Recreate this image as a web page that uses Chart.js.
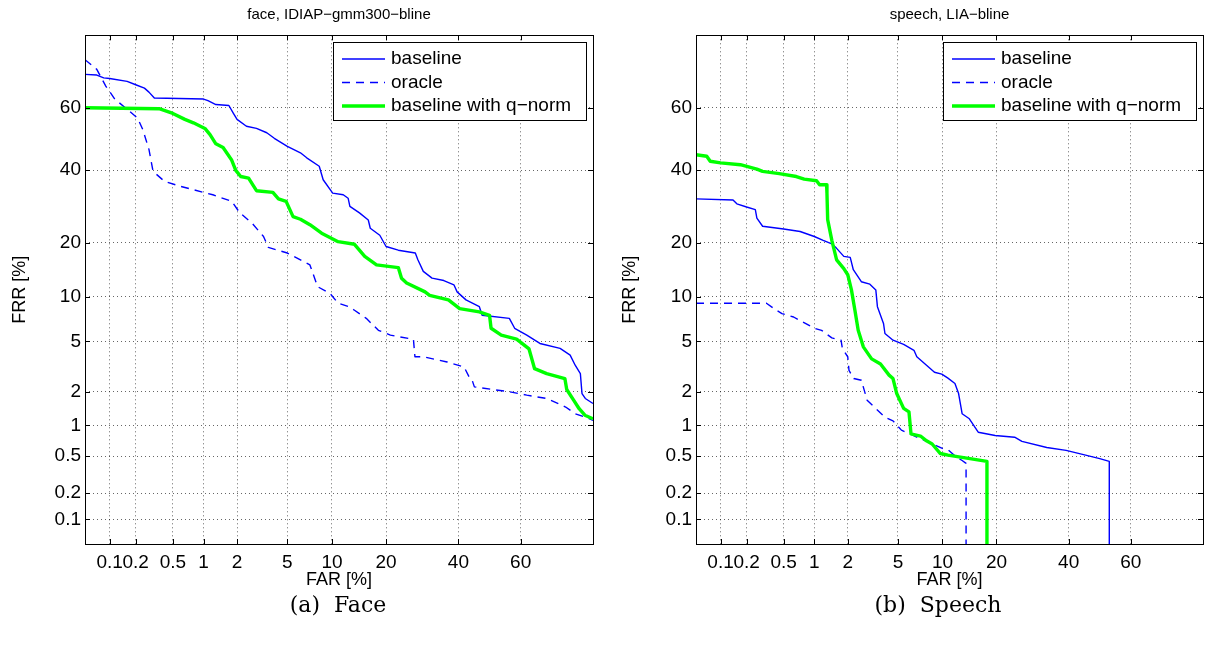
<!DOCTYPE html>
<html>
<head>
<meta charset="utf-8">
<title>DET curves</title>
<script src="https://cdn.jsdelivr.net/npm/chart.js@4/dist/chart.umd.min.js"></script>
<style>
  body { margin: 0; background: #fff; }
  #wrap { position: relative; width: 1210px; height: 648px; overflow: hidden; }
  canvas { position: absolute; top: 0; }
  #c-face { left: 0; }
  #c-speech { left: 610px; }
  .caption {
    position: absolute; top: 592px; line-height: 28px;
    font: 22px 'DejaVu Serif', 'Liberation Serif', serif;
    white-space: pre; transform: translateX(-50%); color: #000;
  }
</style>
</head>
<body>
<div id="wrap">
  <canvas id="c-face" width="610" height="600"></canvas>
  <canvas id="c-speech" width="600" height="600"></canvas>
  <div class="caption" style="left:338px">(a)  Face</div>
  <div class="caption" style="left:938px">(b)  Speech</div>
</div>
<script>
// axes (percent, normal deviate scale)
const tickValues = [0.1, 0.2, 0.5, 1, 2, 5, 10, 20, 40, 60];
const axisMin = 0.05;
const axisMax = 80;

const seriesLabels = ['baseline', 'oracle', 'baseline with q\u2212norm'];

// face, IDIAP-gmm300-bline
const faceBaseFar = [0.05, 0.07, 0.085, 0.1, 0.16, 0.2, 0.25, 0.28, 0.32, 1.0, 1.1, 1.3, 1.7, 1.85, 2.0, 2.4, 2.9, 3.5, 4.0, 5.0, 6.2, 6.85, 8.3, 8.8, 10.1, 11.7, 12.5, 12.8, 14.5, 16.2, 16.6, 18.6, 20, 22.9, 27.3, 28, 29.5, 32, 35.5, 38.6, 39.6, 42.4, 46.7, 47.6, 56.4, 58.1, 61.9, 65.9, 71.7, 74.4, 75.7, 77, 77.4, 78.2, 80];
const faceBaseFrr = [70, 69.8, 69, 68.8, 68, 67, 66, 64.8, 63, 62.7, 62.2, 61, 60.7, 58.4, 56.3, 54.1, 53.4, 52, 50.2, 47.6, 45.5, 43.9, 41.2, 37, 33, 32.5, 31.5, 29.2, 27.4, 25.5, 23.4, 21.7, 19.1, 18.3, 17.7, 16.3, 14.1, 12.9, 12.5, 11.8, 10.7, 9.55, 8.65, 7.6, 7.25, 6.2, 5.55, 4.83, 4.44, 3.95, 3.3, 2.83, 1.93, 1.75, 1.58];

const faceOracleFar = [0.05, 0.07, 0.09, 0.115, 0.17, 0.21, 0.24, 0.28, 0.31, 0.41, 0.6, 1.0, 1.22, 1.8, 2.1, 2.7, 3.3, 3.6, 5, 6.2, 7.2, 7.6, 8.1, 9.7, 10.9, 12.6, 13.6, 15.8, 18.3, 21, 26.8, 27.2, 29.5, 36.5, 41.8, 43.4, 44.2, 45.1, 51.1, 56.4, 61.9, 67.9, 71.2, 73.2, 75.7, 78.3, 80];
const faceOracleFrr = [74, 71.4, 66.6, 62.7, 58.9, 56.7, 53, 46.6, 39.6, 36.5, 35, 33.2, 32.5, 30.6, 27.5, 24.5, 21.4, 18.9, 17.7, 16.3, 15.3, 13.5, 11.5, 10.5, 9.1, 8.65, 8.2, 7.25, 6.0, 5.55, 5.17, 3.84, 3.84, 3.5, 3.2, 2.66, 2.58, 2.2, 2.09, 2.0, 1.87, 1.75, 1.58, 1.47, 1.28, 1.19, 1.11];

const faceQnormFar = [0.05, 0.36, 0.5, 0.66, 0.8, 1.03, 1.15, 1.3, 1.51, 1.79, 1.95, 2.15, 2.5, 2.9, 3.9, 4.3, 4.9, 5.5, 6.2, 7.2, 8.6, 10.9, 13.6, 15.5, 17.9, 22.9, 23.7, 25, 30, 31.3, 36.9, 40.4, 46.7, 50, 50.5, 53.8, 58.7, 62.6, 64.3, 67.9, 73, 73.5, 75.3, 76.7, 78.1, 80];
const faceQnormFrr = [60, 59.7, 58.2, 56.3, 55.2, 53.4, 51.4, 48.4, 47.2, 43.3, 39.9, 38, 37.5, 33.7, 33.2, 31.3, 30.6, 26.4, 25.7, 24.3, 22.2, 20.2, 19.6, 17, 15.3, 14.8, 12.9, 12.1, 10.7, 10.2, 9.55, 8.4, 8.0, 7.6, 6.2, 5.55, 5.2, 4.4, 3.1, 2.83, 2.58, 2.09, 1.69, 1.42, 1.24, 1.15];

// speech, LIA-bline
const speechBaseFar = [0.05, 0.14, 0.155, 0.2, 0.25, 0.26, 0.3, 0.5, 0.73, 1.0, 1.21, 1.45, 1.6, 1.85, 2.1, 2.23, 2.6, 3.05, 3.4, 3.5, 3.9, 4.0, 4.6, 5.5, 6.5, 6.8, 7.9, 8.9, 9.9, 10.8, 11.9, 12.5, 13.1, 14.4, 16.1, 19.7, 24.4, 26.3, 33.3, 39.2, 45.4, 50, 53.1, 53.1];
const speechBaseFrr = [31.3, 31, 29.9, 29, 28.3, 26, 23.9, 23.2, 22.6, 21.4, 20.5, 19.7, 18.7, 17, 16.8, 14.4, 12.3, 11.9, 11, 8.65, 6.7, 5.7, 5.1, 4.75, 4.3, 3.84, 3.3, 2.9, 2.8, 2.6, 2.35, 1.93, 1.28, 1.15, 0.86, 0.8, 0.77, 0.7, 0.61, 0.57, 0.51, 0.47, 0.44, 0.05];

const speechOracleFar = [0.05, 0.33, 0.42, 0.48, 0.63, 1.0, 1.17, 1.45, 1.75, 1.8, 2.0, 2.05, 2.25, 2.6, 2.9, 3.3, 4.0, 4.6, 5.3, 9.9, 10.8, 12.1, 13.1, 13.8, 13.8];
const speechOracleFrr = [9.1, 9.1, 8.2, 7.8, 7.4, 6.2, 6.0, 5.3, 5.1, 4.4, 3.84, 3.0, 2.58, 2.5, 1.69, 1.47, 1.19, 1.1, 0.9, 0.6, 0.58, 0.49, 0.45, 0.42, 0.05];

const speechQnormFar = [0.05, 0.068, 0.075, 0.1, 0.17, 0.26, 0.3, 0.45, 0.67, 0.8, 1.05, 1.12, 1.3, 1.31, 1.33, 1.45, 1.6, 1.85, 2.0, 2.15, 2.3, 2.45, 2.7, 3.15, 3.7, 4.3, 4.6, 4.9, 5.5, 6.0, 6.2, 7.2, 7.9, 8.6, 9.7, 10.8, 14.5, 17.9, 17.9];
const speechQnormFrr = [44.9, 44.4, 42.8, 42.3, 41.7, 40.3, 39.6, 38.9, 38.0, 37.2, 36.7, 35.5, 35.5, 33, 25.6, 20.5, 16.3, 14.6, 13.5, 11, 8.2, 6, 4.56, 3.7, 3.37, 2.75, 2.58, 1.93, 1.43, 1.33, 0.83, 0.79, 0.71, 0.66, 0.53, 0.51, 0.47, 0.44, 0.05];

const FONT = "'Liberation Sans', Arial, Helvetica, sans-serif";
Chart.defaults.font.family = FONT;
Chart.defaults.color = '#000';

// inverse of the normal CDF (Acklam)
function probit(p) {
    const a = [-39.69683028665376, 220.9460984245205, -275.9285104469687, 138.3577518672690, -30.66479806614716, 2.506628277459239];
    const b = [-54.47609879822406, 161.5858368580409, -155.6989798598866, 66.80131188771972, -13.28068155288572];
    const c = [-0.007784894002430293, -0.3223964580411365, -2.400758277161838, -2.549732539343734, 4.374664141464968, 2.938163982698783];
    const d = [0.007784695709041462, 0.3224671290700398, 2.445134137142996, 3.754408661907416];
    if (p <= 0) return -8;
    if (p >= 1) return 8;
    const pl = 0.02425;
    let q, r;
    if (p < pl) {
        q = Math.sqrt(-2 * Math.log(p));
        return (((((c[0] * q + c[1]) * q + c[2]) * q + c[3]) * q + c[4]) * q + c[5]) /
            ((((d[0] * q + d[1]) * q + d[2]) * q + d[3]) * q + 1);
    }
    if (p > 1 - pl) {
        q = Math.sqrt(-2 * Math.log(1 - p));
        return -(((((c[0] * q + c[1]) * q + c[2]) * q + c[3]) * q + c[4]) * q + c[5]) /
            ((((d[0] * q + d[1]) * q + d[2]) * q + d[3]) * q + 1);
    }
    q = p - 0.5;
    r = q * q;
    return (((((a[0] * r + a[1]) * r + a[2]) * r + a[3]) * r + a[4]) * r + a[5]) * q /
        (((((b[0] * r + b[1]) * r + b[2]) * r + b[3]) * r + b[4]) * r + 1);
}

function normCdf(z) {
    const t = 1 / (1 + 0.3275911 * Math.abs(z) / Math.SQRT2);
    const y = 1 - (((((1.061405429 * t - 1.453152027) * t) + 1.421413741) * t - 0.284496736) * t + 0.254829592) * t *
        Math.exp(-z * z / 2);
    return z >= 0 ? (1 + y) / 2 : (1 - y) / 2;
}

/* ===== probit scale ===== */

class ProbitScale extends Chart.Scale {
    static id = 'probit';
    static defaults = {};

    determineDataLimits() {
        this.min = this.options.min;
        this.max = this.options.max;
    }
    buildTicks() {
        return tickValues.map(v => ({ value: v }));
    }
    getLabelForValue(value) {
        return String(value);
    }
    configure() {
        super.configure();
        this._zStart = probit(this.min / 100);
        this._zRange = probit(this.max / 100) - this._zStart;
    }
    getPixelForValue(value) {
        if (value === null || value === undefined || isNaN(value)) return NaN;
        return this.getPixelForDecimal((probit(value / 100) - this._zStart) / this._zRange);
    }
    getValueForPixel(pixel) {
        const dec = this.getDecimalForPixel(pixel);
        return normCdf(this._zStart + dec * this._zRange) * 100;
    }
}
Chart.register(ProbitScale);

/* ===== frame, inner ticks and legend ===== */

const detDecor = {
    id: 'detDecor',
    afterDatasetsDraw(chart) {
        const { ctx, chartArea: ca, scales } = chart;
        ctx.save();
        ctx.strokeStyle = '#000';
        ctx.lineWidth = 1;
        ctx.setLineDash([]);
        ctx.beginPath();
        tickValues.forEach(v => {
            const x = Math.round(scales.x.getPixelForValue(v)) + 0.5;
            ctx.moveTo(x, ca.bottom); ctx.lineTo(x, ca.bottom - 5);
            ctx.moveTo(x, ca.top); ctx.lineTo(x, ca.top + 5);
            const y = Math.round(scales.y.getPixelForValue(v)) + 0.5;
            ctx.moveTo(ca.left, y); ctx.lineTo(ca.left + 5, y);
            ctx.moveTo(ca.right, y); ctx.lineTo(ca.right - 5, y);
        });
        ctx.stroke();
        ctx.strokeRect(Math.round(ca.left) + 0.5, Math.round(ca.top) + 0.5,
            Math.round(ca.right - ca.left), Math.round(ca.bottom - ca.top));

        // legend
        const w = 253, h = 78;
        const left = Math.round(ca.right - 7 - w);
        const top = Math.round(ca.top + 7);
        ctx.fillStyle = '#fff';
        ctx.fillRect(left, top, w, h);
        ctx.strokeRect(left + 0.5, top + 0.5, w, h);
        ctx.font = '19px ' + FONT;
        ctx.textBaseline = 'middle';
        chart.data.datasets.forEach((ds, i) => {
            const y = top + 17 + i * 23.5;
            ctx.beginPath();
            ctx.setLineDash(ds.borderDash || []);
            ctx.strokeStyle = ds.borderColor;
            ctx.lineWidth = ds.borderWidth;
            ctx.moveTo(left + 9, y);
            ctx.lineTo(left + 52, y);
            ctx.stroke();
            ctx.setLineDash([]);
            ctx.fillStyle = '#000';
            ctx.fillText(ds.label, left + 58, y);
        });
        ctx.restore();
    }
};

function pontos(far, frr) {
    return far.map((x, i) => ({ x: x, y: frr[i] }));
}

function criarDET(id, titulo, series, yWidth, padRight) {
    const estilos = [
        { borderColor: '#0000ff', borderWidth: 1.4, borderDash: [], order: 2 },
        { borderColor: '#0000ff', borderWidth: 1.4, borderDash: [8, 6], order: 1 },
        { borderColor: '#00ff00', borderWidth: 3.4, borderDash: [], order: 0 }
    ];
    const eixo = (pos, extra) => Object.assign({
        type: 'probit',
        position: pos,
        min: axisMin,
        max: axisMax,
        grid: { color: 'rgba(0,0,0,0.6)', lineWidth: 1, drawTicks: false },
        border: { display: false, dash: [1, 3] },
        ticks: { autoSkip: false, maxRotation: 0, minRotation: 0, font: { size: 19 } }
    }, extra);

    return new Chart(document.getElementById(id), {
        type: 'line',
        data: {
            datasets: series.map((s, i) => Object.assign({
                label: seriesLabels[i],
                data: pontos(s[0], s[1]),
                pointRadius: 0,
                tension: 0,
                fill: false,
                borderJoinStyle: 'round'
            }, estilos[i]))
        },
        options: {
            responsive: false,
            animation: false,
            events: [],
            layout: { padding: { left: 0, right: padRight, top: 0, bottom: 0 } },
            scales: {
                x: eixo('bottom', {
                    ticks: { autoSkip: false, maxRotation: 0, minRotation: 0, padding: 7, font: { size: 19 } },
                    title: { display: true, text: 'FAR [%]', font: { size: 18 }, padding: { top: 0, bottom: 9 } },
                    afterFit: s => { s.height = 56; }
                }),
                y: eixo('left', {
                    ticks: { autoSkip: false, maxRotation: 0, minRotation: 0, padding: 4, font: { size: 19 } },
                    title: { display: true, text: 'FRR [%]', font: { size: 18 }, padding: { top: 9, bottom: 0 } },
                    afterFit: s => { s.width = yWidth; }
                })
            },
            plugins: {
                legend: { display: false },
                tooltip: { enabled: false },
                title: {
                    display: true,
                    text: titulo,
                    fullSize: false,
                    color: '#000',
                    font: { size: 15, weight: 'normal' },
                    padding: { top: 6, bottom: 11.3 }
                }
            }
        },
        plugins: [detDecor]
    });
}

criarDET('c-face', 'face, IDIAP\u2212gmm300\u2212bline', [
    [faceBaseFar, faceBaseFrr],
    [faceOracleFar, faceOracleFrr],
    [faceQnormFar, faceQnormFrr]
], 85, 17);

criarDET('c-speech', 'speech, LIA\u2212bline', [
    [speechBaseFar, speechBaseFrr],
    [speechOracleFar, speechOracleFrr],
    [speechQnormFar, speechQnormFrr]
], 86, 7);
</script>
</body>
</html>
